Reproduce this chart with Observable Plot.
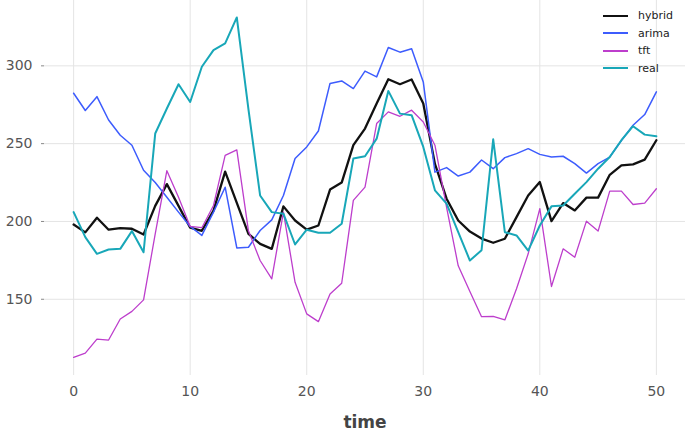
<!DOCTYPE html>
<html>
<head>
<meta charset="utf-8">
<script src="https://cdn.jsdelivr.net/npm/d3@7"></script>
<script src="https://cdn.jsdelivr.net/npm/@observablehq/plot@0.6"></script>
<style>
  html, body { margin: 0; padding: 0; background: #fff; }
  #wrap { position: relative; width: 685px; height: 432px; font-family: "DejaVu Sans", sans-serif; }
  #wrap svg [aria-label="x-axis label"] text { font-weight: bold; font-size: 17px; fill: #444; }
  #legend { position: absolute; left: 603px; top: 7px; font-size: 11px; color: #222; line-height: 17.5px; }
  #legend .row { display: flex; align-items: center; height: 17.5px; }
  #legend .sw { display: inline-block; width: 25px; margin-right: 10px; }
</style>
</head>
<body>
<div id="wrap"></div>
<script>
const time = [0,1,2,3,4,5,6,7,8,9,10,11,12,13,14,15,16,17,18,19,20,21,22,23,24,25,26,27,28,29,30,31,32,33,34,35,36,37,38,39,40,41,42,43,44,45,46,47,48,49,50];

const hybrid = [198,193,202.4,194.7,195.7,195.3,191.6,210,224,210,196,194,207,232,212,192,185.6,182.4,209.7,200.6,194.7,197.4,220.5,225,249,259.7,275.8,291.4,288.2,291.2,275.8,237,214.6,200.6,193.5,189,186.3,188.9,202.8,216.7,225.3,200.2,211.8,207.1,215.3,215.3,230,236,236.7,239.7,252.2];

const arima = [282.4,271.3,280.2,265.2,255.4,249,232.9,225,215.6,206,196.8,191,206,222,183,183.4,194.2,201,216.7,240.4,247.9,258.1,288.7,290.3,285.4,296.6,292.9,311.8,308.8,311,289.7,231.7,234.6,229.2,231.7,239.5,233.9,241,243.6,246.8,243.1,241.4,241.9,237.2,231.1,237.2,241.4,252,261.8,268.7,283.3];

const tft = [112.6,115.4,124.4,123.8,137.3,142.2,149.6,192,232.6,215.6,196.8,196,210.3,242.5,246,194,174.9,163.1,206,160.9,140.6,135.6,153.4,160.3,213.5,222.1,262.9,270.4,267.6,271.5,263.9,249,209,171.5,155,138.8,139,136.7,156.7,179.2,208.2,158.2,182.4,177,200.2,193.8,219.5,219.5,210.9,211.8,221];

const real = [206,189.9,179.2,182,182.4,193.8,180.2,256.5,272.6,288.2,276.8,299.4,310.1,314.4,331.1,272,216.7,206,205,185.2,194.7,192.7,192.7,198.5,240.4,241.9,253.2,283.9,269.3,268.3,247.9,220,211.4,193.1,174.9,181.5,252.8,193.1,191,181.3,197.4,209.7,210.3,217.8,225.3,233.9,241.4,252.2,261.2,255.8,254.7];

const xTicks = [0, 10, 20, 30, 40, 50];
const yTicks = [150, 200, 250, 300];

const seriesNames = ["hybrid", "arima", "tft", "real"];
const seriesColors = ["#111111", "#3d5cfd", "#bd3ecc", "#18a7b8"];
const seriesWidths = [2.3, 1.5, 1.3, 2];
const seriesValues = [hybrid, arima, tft, real];

const rows = (name, vals) => vals.map((v, i) => ({time: time[i], value: v, series: name}));

const lineMarks = seriesNames.map((name, k) =>
  Plot.line(rows(name, seriesValues[k]), {
    x: "time", y: "value", stroke: seriesColors[k], strokeWidth: seriesWidths[k],
    strokeLinejoin: "round", strokeLinecap: "round"
  })
);

const chart = Plot.plot({
  width: 685,
  height: 432,
  marginLeft: 44,
  marginRight: 0,
  marginTop: 0,
  marginBottom: 57,
  style: {fontFamily: "DejaVu Sans, sans-serif", fontSize: "14px", color: "#555", background: "#fff"},
  x: {domain: [-2.5, 52.5]},
  y: {domain: [101, 342]},
  marks: [
    Plot.gridX(xTicks, {stroke: "#e4e4e4", strokeOpacity: 1, strokeWidth: 1}),
    Plot.gridY(yTicks, {stroke: "#e4e4e4", strokeOpacity: 1, strokeWidth: 1}),
    Plot.axisX(xTicks, {tickSize: 0, tickPadding: 11, label: "time", labelAnchor: "center", labelArrow: "none", labelOffset: 52, fill: "#555"}),
    Plot.axisY(yTicks, {tickSize: 3, tickPadding: 9, label: null, stroke: "#888", fill: "#555"}),
    ...lineMarks
  ]
});

const wrap = document.getElementById("wrap");
wrap.appendChild(chart);

const legend = document.createElement("div");
legend.id = "legend";
seriesNames.forEach((name, k) => {
  const row = document.createElement("div");
  row.className = "row";
  const sw = document.createElement("span");
  sw.className = "sw";
  sw.style.borderTop = `${Math.max(seriesWidths[k], 2)}px solid ${seriesColors[k]}`;
  const lab = document.createElement("span");
  lab.textContent = name;
  row.appendChild(sw);
  row.appendChild(lab);
  legend.appendChild(row);
});
wrap.appendChild(legend);
</script>
</body>
</html>
